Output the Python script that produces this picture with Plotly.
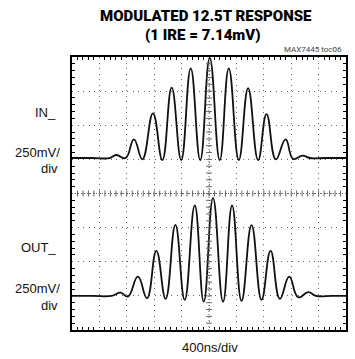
import plotly.graph_objects as go

# ---- data (time in ns, signal in mV relative to channel baseline)
in_time = [0, 300, 548, 646, 782, 904, 1027, 1182, 1319, 1455, 1594, 1733, 1872, 2011,
           2157, 2289, 2435, 2571, 2717, 2840, 2976, 3118, 3229, 3367, 3473, 3700, 4000]
in_mv = [0, 0, 0, 22, 0, 137, -10, 327, -15, 515, -15, 657, -15, 733,
         -15, 657, -15, 511, -15, 322, -10, 137, -7, 18, 0, 0, 0]

out_time = [0, 300, 578, 709, 816, 962, 1094, 1231, 1367, 1509, 1645, 1792, 1923, 2059,
            2205, 2337, 2475, 2621, 2767, 2899, 3035, 3171, 3302, 3449, 3561, 3800, 4000]
out_mv = [0, 0, 0, 24, -5, 141, -17, 330, -22, 520, -29, 662, -42, 716,
          -42, 662, -37, 518, -29, 330, -22, 141, -10, 27, 0, 0, 0]

in_offset = 260     # channel position (mV on screen)
out_offset = -750

x_divs = 10
y_divs = 8
ns_per_div = 400
mv_per_div = 250

x_max = x_divs * ns_per_div
y_half = y_divs / 2 * mv_per_div

fig = go.Figure()
fig.add_trace(go.Scatter(x=in_time, y=[v + in_offset for v in in_mv], mode="lines",
                         line=dict(color="#111111", width=1.8, shape="spline", smoothing=1.3),
                         hoverinfo="skip", showlegend=False))
fig.add_trace(go.Scatter(x=out_time, y=[v + out_offset for v in out_mv], mode="lines",
                         line=dict(color="#111111", width=1.8, shape="spline", smoothing=1.3),
                         hoverinfo="skip", showlegend=False))

grid_col = "#666666"
axis_common = dict(showticklabels=False, zeroline=False, showline=True, mirror="allticks",
                   linecolor="black", linewidth=2, ticks="", showgrid=True,
                   gridcolor=grid_col, gridwidth=1, griddash="1px,4.5px")
fig.update_xaxes(range=[0, x_max], dtick=ns_per_div, tick0=0,
                 minor=dict(dtick=ns_per_div / 5, ticks="inside", ticklen=3,
                            tickcolor="black", showgrid=False),
                 **axis_common)
fig.update_yaxes(range=[-y_half, y_half], dtick=mv_per_div, tick0=0,
                 minor=dict(dtick=mv_per_div / 5, ticks="inside", ticklen=3,
                            tickcolor="black", showgrid=False),
                 **axis_common)

# center crosshair with small tick marks
shapes = []
shapes.append(dict(type="line", xref="x", yref="y", x0=x_max / 2, x1=x_max / 2,
                   y0=-y_half, y1=y_half, line=dict(color=grid_col, width=1, dash="1px,2px")))
shapes.append(dict(type="line", xref="x", yref="y", x0=0, x1=x_max, y0=0, y1=0,
                   line=dict(color=grid_col, width=1, dash="1px,2px")))
tick_x = 3 * ns_per_div / 27.35   # ~3 px in data units
tick_y = 3 * mv_per_div / 34.1
for i in range(1, x_divs * 5):
    xv = i * ns_per_div / 5
    shapes.append(dict(type="line", xref="x", yref="y", x0=xv, x1=xv, y0=-tick_y, y1=tick_y,
                       line=dict(color=grid_col, width=1)))
for i in range(1, y_divs * 5):
    yv = -y_half + i * mv_per_div / 5
    shapes.append(dict(type="line", xref="x", yref="y", x0=x_max / 2 - tick_x,
                       x1=x_max / 2 + tick_x, y0=yv, y1=yv, line=dict(color=grid_col, width=1)))

title_font = dict(family="Roboto, Liberation Sans, sans-serif",
                  size=15, color="black", weight=900)
lab_font = dict(family="Liberation Sans, Arial, sans-serif", size=13, color="#111111")

H = 273.0  # plot height px, for paper conversions
W = 274.0


def py(p):
    return 1 + (57 - p) / H


def px(p):
    return (p - 72) / W


ann = [
    dict(text="MODULATED 12.5T RESPONSE", x=px(206), y=py(16), font=title_font),
    dict(text="(1 IRE = 7.14mV)", x=px(203), y=py(35), font=title_font),
    dict(text="MAX7445 toc06", x=px(344), y=py(49), xanchor="right",
         font=dict(family="Roboto, sans-serif", size=8, color="#444444")),
    dict(text="IN_", x=px(58), y=py(113), xanchor="right", font=lab_font),
    dict(text="250mV/", x=px(62), y=py(152), xanchor="right", font=lab_font),
    dict(text="div", x=px(60), y=py(168), xanchor="right", font=lab_font),
    dict(text="OUT_", x=px(58), y=py(247), xanchor="right", font=lab_font),
    dict(text="250mV/", x=px(62), y=py(288), xanchor="right", font=lab_font),
    dict(text="div", x=px(60), y=py(305), xanchor="right", font=lab_font),
    dict(text="400ns/div", x=px(210), y=py(347), font=lab_font),
]
for a in ann:
    a.setdefault("xanchor", "center")
    a.update(xref="paper", yref="paper", yanchor="middle", showarrow=False)

fig.update_layout(width=355, height=359, margin=dict(l=72, r=9, t=57, b=29, autoexpand=False),
                  paper_bgcolor="white", plot_bgcolor="white", shapes=shapes, annotations=ann,
                  showlegend=False)

fig.write_html("out.html", config={"displayModeBar": False})
